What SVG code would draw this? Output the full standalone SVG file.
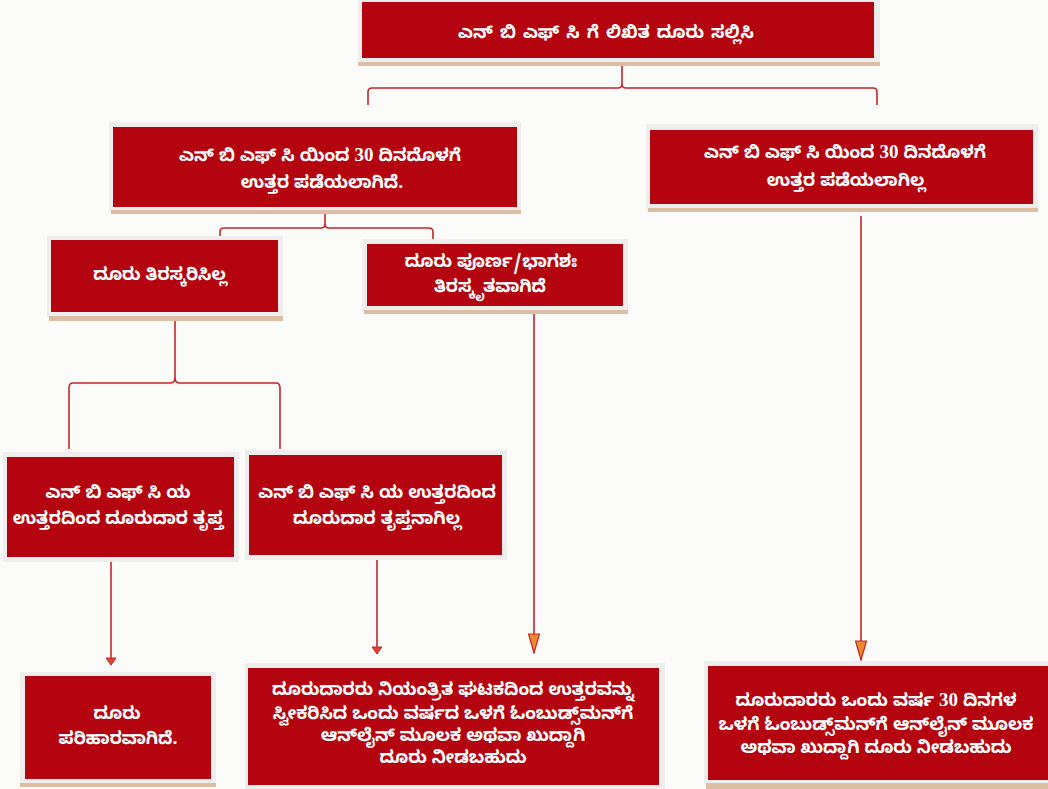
<svg xmlns="http://www.w3.org/2000/svg" width="1048" height="789" viewBox="0 0 1048 789">
<defs>
<style>
.frame{fill:#efeeed}
.shade{fill:#dcbfa3}
.box{fill:#b4040f}
.t{fill:#ffffff;font-family:"Noto Sans Kannada","Noto Sans","Liberation Sans",sans-serif;font-size:17.5px;font-weight:bold;text-anchor:middle}
.n{font-family:"Liberation Serif",serif;font-size:19px}
.c{fill:none;stroke:#c4262c;stroke-width:1.6}
</style>
<marker id="ah" markerWidth="21" markerHeight="13" refX="20" refY="6.5" orient="auto" markerUnits="userSpaceOnUse" viewBox="0 0 21 13">
<path d="M1,1 L20,6.5 L1,12 Z" fill="#ea8a30" stroke="#c4262c" stroke-width="1.2"/>
</marker>
<marker id="as" markerWidth="9" markerHeight="12" refX="8" refY="6" orient="auto" markerUnits="userSpaceOnUse" viewBox="0 0 9 12">
<path d="M1,1 L8,6 L1,11 Z" fill="#e0452e" stroke="#c4262c" stroke-width="1"/>
</marker>
</defs>
<rect width="1048" height="789" fill="#fbfbfa"/>
<g id="connectors">
<path class="c" d="M622,66 L622,84 Q622,88 618,88 L372,88 Q368,88 368,92 L368,105"/>
<path class="c" d="M622,84 Q622,88 626,88 L873,88 Q877,88 877,92 L877,105"/>
<path class="c" d="M325,214 L325,224 Q325,228 321,228 L224,228 Q220,228 220,232 L220,236"/>
<path class="c" d="M325,224 Q325,228 329,228 L429,228 Q433,228 433,232 L433,240"/>
<path class="c" d="M175,321 L175,378 Q175,383 170,383 L73,383 Q69,383 69,388 L69,449"/>
<path class="c" d="M175,378 Q175,383 180,383 L276,383 Q280,383 280,388 L280,449"/>
<path class="c" d="M111,558 L111,665" marker-end="url(#as)"/>
<path class="c" d="M377,549 L377,654" marker-end="url(#as)"/>
<path class="c" d="M534,314 L534,653" marker-end="url(#ah)"/>
<path class="c" d="M861,216 L861,660" marker-end="url(#ah)"/>
</g>
<g id="n1">
<rect class="frame" x="358" y="0" width="522" height="64"/>
<rect class="shade" x="358" y="62" width="522" height="4"/>
<rect class="box" x="362" y="2" width="512" height="56"/>
<text class="t" x="606" y="38" style="word-spacing:2px">ಎನ್ ಬಿ ಎಫ್ ಸಿ ಗೆ ಲಿಖಿತ ದೂರು ಸಲ್ಲಿಸಿ</text>
</g>
<g id="n2">
<rect class="frame" x="109" y="122" width="412" height="90"/>
<rect class="shade" x="111" y="210" width="410" height="4"/>
<rect class="box" x="113" y="127" width="404" height="80"/>
<text class="t" x="320" y="161">ಎನ್ ಬಿ ಎಫ್ ಸಿ ಯಿಂದ <tspan class="n">30</tspan> ದಿನದೊಳಗೆ</text>
<text class="t" x="322" y="188">ಉತ್ತರ ಪಡೆಯಲಾಗಿದೆ.</text>
</g>
<g id="n3">
<rect class="frame" x="646" y="124" width="392" height="86"/>
<rect class="shade" x="648" y="208" width="390" height="4"/>
<rect class="box" x="650" y="130" width="383" height="74"/>
<text class="t" x="845" y="158">ಎನ್ ಬಿ ಎಫ್ ಸಿ ಯಿಂದ <tspan class="n">30</tspan> ದಿನದೊಳಗೆ</text>
<text class="t" x="846" y="186">ಉತ್ತರ ಪಡೆಯಲಾಗಿಲ್ಲ</text>
</g>
<g id="n4">
<rect class="frame" x="47" y="236" width="236" height="81"/>
<rect class="shade" x="49" y="316" width="234" height="5"/>
<rect class="box" x="51" y="240" width="227" height="72"/>
<text class="t" x="160" y="280">ದೂರು ತಿರಸ್ಕರಿಸಿಲ್ಲ</text>
</g>
<g id="n5">
<rect class="frame" x="362" y="239" width="266" height="72"/>
<rect class="shade" x="364" y="310" width="264" height="4"/>
<rect class="box" x="367" y="244" width="256" height="62"/>
<text class="t" x="491" y="267">ದೂರು ಪೂರ್ಣ/ಭಾಗಶಃ</text>
<text class="t" x="490" y="292">ತಿರಸ್ಕೃತವಾಗಿದೆ</text>
</g>
<g id="n6">
<rect class="frame" x="3" y="452" width="236" height="110"/>
<rect class="box" x="7" y="457" width="227" height="100"/>
<text class="t" x="118" y="498">ಎನ್ ಬಿ ಎಫ್ ಸಿ ಯ</text>
<text class="t" x="118" y="524">ಉತ್ತರದಿಂದ ದೂರುದಾರ ತೃಪ್ತ</text>
</g>
<g id="n7">
<rect class="frame" x="245" y="450" width="262" height="110"/>
<rect class="box" x="249" y="455" width="253" height="100"/>
<text class="t" x="377" y="498">ಎನ್ ಬಿ ಎಫ್ ಸಿ ಯ ಉತ್ತರದಿಂದ</text>
<text class="t" x="377" y="524">ದೂರುದಾರ ತೃಪ್ತನಾಗಿಲ್ಲ</text>
</g>
<g id="n8">
<rect class="frame" x="20" y="672" width="196" height="112"/>
<rect class="shade" x="20" y="783" width="196" height="4"/>
<rect class="box" x="25" y="676" width="186" height="103"/>
<text class="t" x="117" y="719">ದೂರು</text>
<text class="t" x="118" y="744">ಪರಿಹಾರವಾಗಿದೆ.</text>
</g>
<g id="n9">
<rect class="frame" x="245" y="663" width="420" height="126"/>
<rect class="box" x="248" y="668" width="411" height="117"/>
<text class="t" x="453" y="695">ದೂರುದಾರರು ನಿಯಂತ್ರಿತ ಘಟಕದಿಂದ ಉತ್ತರವನ್ನು</text>
<text class="t" x="453" y="719">ಸ್ವೀಕರಿಸಿದ ಒಂದು ವರ್ಷದ ಒಳಗೆ ಓಂಬುಡ್ಸ್‌ಮನ್‌ಗೆ</text>
<text class="t" x="453" y="741">ಆನ್‌ಲೈನ್ ಮೂಲಕ ಅಥವಾ ಖುದ್ದಾಗಿ</text>
<text class="t" x="453" y="763">ದೂರು ನೀಡಬಹುದು</text>
</g>
<g id="n10">
<rect class="frame" x="704" y="661" width="344" height="124"/>
<rect class="shade" x="706" y="783" width="342" height="6"/>
<rect class="box" x="708" y="666" width="340" height="114"/>
<text class="t" x="876" y="706">ದೂರುದಾರರು ಒಂದು ವರ್ಷ <tspan class="n">30</tspan> ದಿನಗಳ</text>
<text class="t" x="876" y="730">ಒಳಗೆ ಓಂಬುಡ್ಸ್‌ಮನ್‌ಗೆ ಆನ್‌ಲೈನ್ ಮೂಲಕ</text>
<text class="t" x="876" y="753">ಅಥವಾ ಖುದ್ದಾಗಿ ದೂರು ನೀಡಬಹುದು</text>
</g>
</svg>
